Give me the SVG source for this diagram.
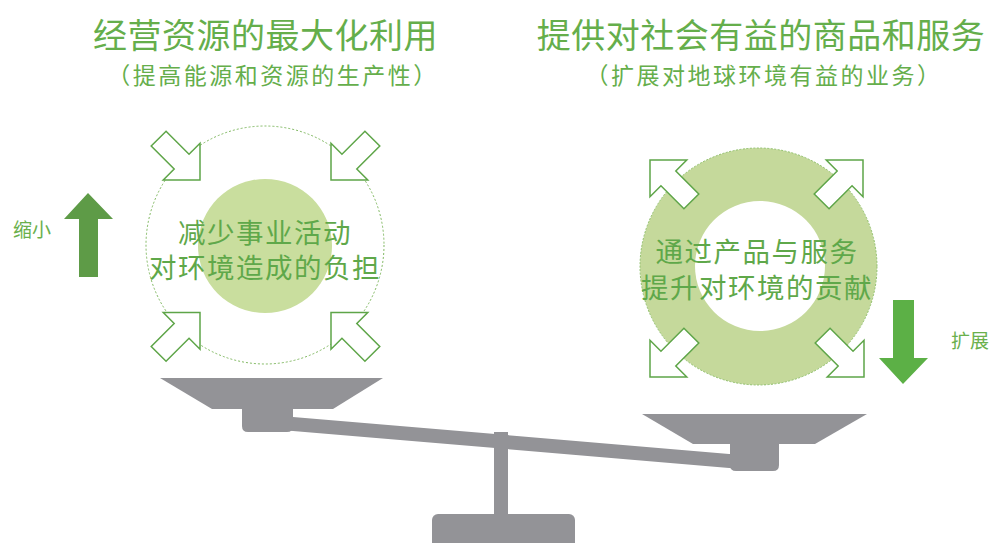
<svg xmlns="http://www.w3.org/2000/svg" width="992" height="543" viewBox="0 0 992 543">
<defs>
<style>
.t{font-family:"Noto Sans CJK SC","Noto Sans",sans-serif;fill:#65ae4b;text-anchor:middle}
.title{font-size:34px;letter-spacing:0.5px}
.sub{font-size:23px;letter-spacing:2.5px}
.body{font-family:"Liberation Sans","Noto Sans CJK SC",sans-serif;font-size:27.5px;letter-spacing:1.5px;fill:#5fa84a}
.side{font-size:19px;fill:#6ab04c;font-family:"Noto Sans CJK SC","Noto Sans",sans-serif}
.arw{fill:#ffffff;stroke:#5ea548;stroke-width:1.5;stroke-linejoin:miter}
.gray{fill:#939397}
</style>
<polygon id="ar" class="arw" points="0,0 -26,-26 -26,-10.5 -58.5,-10.5 -58.5,10.5 -26,10.5 -26,26"/>
</defs>
<rect width="992" height="543" fill="#ffffff"/>

<g id="titles">
<text class="t title" x="265.5" y="47.5">经营资源的最大化利用</text>
<text class="t sub" x="273" y="84">（提高能源和资源的生产性）</text>
<text class="t title" x="761" y="47.5">提供对社会有益的商品和服务</text>
<text class="t sub" x="764" y="84">（扩展对地球环境有益的业务）</text>
</g>

<g id="left-node">
<circle cx="265" cy="245" r="119" fill="none" stroke="#7fb860" stroke-width="1" stroke-dasharray="2 2"/>
<circle cx="265" cy="246" r="67" fill="#c9de9e"/>
<use href="#ar" transform="translate(200,180) rotate(45)"/>
<use href="#ar" transform="translate(331,180) rotate(135)"/>
<use href="#ar" transform="translate(200,312.5) rotate(-45)"/>
<use href="#ar" transform="translate(331,312.5) rotate(-135)"/>
<text class="t body" x="265" y="243">减少事业活动</text>
<text class="t body" x="265" y="278">对环境造成的负担</text>
</g>

<g id="right-node">
<circle cx="758.5" cy="266.5" r="118.5" fill="#c5d99b" stroke="#8fbf6a" stroke-width="1" stroke-dasharray="2 1.5"/>
<circle cx="760" cy="266" r="65" fill="#ffffff"/>
<use href="#ar" transform="translate(650,160) rotate(225)"/>
<use href="#ar" transform="translate(863,160) rotate(-45)"/>
<use href="#ar" transform="translate(650,377) rotate(135)"/>
<use href="#ar" transform="translate(864,377) rotate(45)"/>
<text class="t body" x="757" y="262">通过产品与服务</text>
<text class="t body" x="757" y="298">提升对环境的贡献</text>
</g>

<g id="shrink">
<polygon points="88,193 113,219 98,219 98,277 79,277 79,219 64,219" fill="#5e9b47"/>
<text class="side" x="13" y="237">缩小</text>
</g>

<g id="expand">
<polygon points="893,300 914,300 914,358 928,358 903,384 879,358 893,358" fill="#5cb046"/>
<text class="side" x="951" y="348">扩展</text>
</g>

<g id="scale">
<polygon class="gray" points="290,416.7 735,454.4 735,468.4 290,430.7"/>
<polygon class="gray" points="160,378 383,378 333,409 212,409"/>
<path class="gray" d="M242,405 H293 V426 Q293,432 287,432 H248 Q242,432 242,426 Z"/>
<polygon class="gray" points="642,414 867,414 815,444 693,444"/>
<path class="gray" d="M730,440 H779 V465 Q779,471 773,471 H736 Q730,471 730,465 Z"/>
<rect class="gray" x="494" y="432" width="14" height="90"/>
<rect class="gray" x="432" y="514" width="143" height="40" rx="6"/>
</g>
</svg>
